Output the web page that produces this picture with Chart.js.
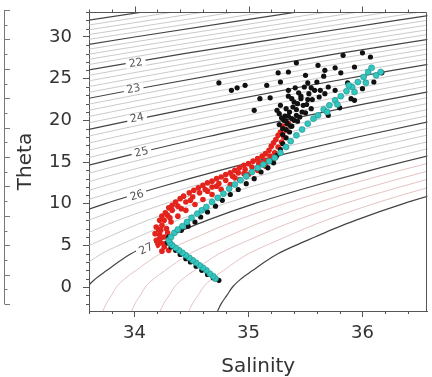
<!DOCTYPE html>
<html>
<head>
<meta charset="utf-8">
<script src="https://cdn.jsdelivr.net/npm/chart.js@4"></script>
<style>
html, body { margin: 0; padding: 0; background: #fff; }
</style>
</head>
<body>
<canvas id="tsChart" width="432" height="377"></canvas>
<script>
// axis tick labels
const salinityTicks = [34, 35, 36];
const thetaTicks = [0, 5, 10, 15, 20, 25, 30];

// isopycnal levels (sigma-theta) drawn in the background, integers are bold
const sigmaLevels = [20.0, 20.2, 20.4, 20.6, 20.8, 21.0, 21.2, 21.4, 21.6, 21.8,
  22.0, 22.2, 22.4, 22.6, 22.8, 23.0, 23.2, 23.4, 23.6, 23.8,
  24.0, 24.2, 24.4, 24.6, 24.8, 25.0, 25.2, 25.4, 25.6, 25.8,
  26.0, 26.2, 26.4, 26.6, 26.8, 27.0, 27.2, 27.4, 27.6, 27.8, 28.0];
const labelLevels = [22, 23, 24, 25, 26, 27];
const labelS = [34.01, 33.99, 34.02, 34.06, 34.02, 34.10];
const labelT = [26.9, 23.8, 20.3, 16.2, 11.0, 4.6];

// seawater reference table: sigma-theta at S=35 and haline slope, by theta
const isoT = [-3, -2, -1, 0, 1, 2, 3, 4, 5, 6, 7, 8, 10, 12, 14, 16, 18, 20, 22, 24, 26, 28, 30, 32, 34];
const isoSigma35 = [28.22, 28.19, 28.15, 28.11, 28.05, 27.97, 27.89, 27.80, 27.68, 27.55, 27.42, 27.28,
  26.96, 26.59, 26.19, 25.75, 25.28, 24.77, 24.23, 23.66, 23.06, 22.42, 21.74, 21.04, 20.33];
const isoBeta = [0.796, 0.793, 0.790, 0.785, 0.783, 0.781, 0.779, 0.776, 0.774, 0.772, 0.770, 0.768,
  0.764, 0.760, 0.757, 0.754, 0.751, 0.749, 0.747, 0.745, 0.743, 0.742, 0.740, 0.739, 0.737];

// station data [salinity, theta]
const redPoints = [
  [34.30, 4.4], [34.26, 4.8], [34.23, 5.3], [34.22, 5.8], [34.22, 6.3], [34.23, 6.8], [34.24, 7.4],
  [34.26, 8.0], [34.29, 8.6], [34.33, 9.2], [34.38, 9.7], [34.45, 10.2], [34.51, 10.8], [34.57, 11.3],
  [34.62, 11.7], [34.68, 12.0], [34.74, 12.4], [34.80, 12.8], [34.86, 13.3], [34.91, 13.7], [34.97, 14.1],
  [35.03, 14.4], [35.09, 14.8], [35.15, 15.2], [35.19, 15.7], [35.23, 16.1], [35.26, 16.8], [35.29, 17.4],
  [35.31, 18.0], [35.33, 18.8], [35.35, 19.6],
  [34.19, 5.6], [34.18, 6.4], [34.19, 7.2], [34.22, 8.0], [34.27, 8.9], [34.33, 9.8], [34.40, 10.6],
  [34.48, 11.3], [34.56, 11.9], [34.64, 12.5], [34.72, 13.0], [34.80, 13.5], [34.88, 14.0], [34.96, 14.6],
  [35.04, 15.1], [35.12, 15.7], [35.18, 16.4], [35.22, 17.3], [35.26, 18.2],
  [34.27, 5.2], [34.26, 6.0], [34.28, 7.0], [34.32, 7.8], [34.38, 8.5], [34.45, 9.2], [34.53, 9.9],
  [34.60, 10.5], [34.68, 11.1], [34.76, 11.7], [34.84, 12.3], [34.92, 12.9], [35.00, 13.5], [35.08, 14.0],
  [35.15, 14.5], [35.21, 15.1],
  [34.24, 4.3], [34.20, 5.0], [34.21, 6.9], [34.24, 8.5], [34.30, 9.5], [34.36, 10.2], [34.43, 10.9],
  [34.52, 11.6], [34.60, 12.2], [34.68, 12.7], [34.76, 13.2], [34.84, 13.7], [34.92, 14.3], [35.00, 14.8],
  [35.08, 15.4], [35.15, 16.0], [35.20, 16.9], [35.24, 17.7], [35.28, 18.6], [35.30, 19.3],
  [34.29, 6.5], [34.31, 8.3], [34.41, 9.4], [34.49, 10.4], [34.64, 11.5], [34.72, 12.1], [34.88, 13.1],
  [34.96, 13.6], [35.12, 14.9], [35.24, 15.6]
];
const blackPoints = [
  [34.74, 0.8], [34.69, 1.1], [34.64, 1.5], [34.59, 2.0], [34.54, 2.5], [34.49, 3.0], [34.45, 3.4],
  [34.40, 3.9], [34.36, 4.4], [34.32, 4.8], [34.29, 5.3], [34.30, 6.0], [34.35, 6.5], [34.41, 6.8],
  [34.47, 7.3], [34.53, 7.8], [34.58, 8.4], [34.64, 9.0], [34.71, 9.7], [34.77, 10.4], [34.84, 11.1],
  [34.91, 11.7], [34.98, 12.4], [35.05, 13.0], [35.11, 13.8], [35.17, 14.3], [35.22, 14.9], [35.25, 15.8],
  [35.28, 16.5], [35.30, 17.2], [35.33, 17.9], [35.36, 18.6], [35.38, 19.3], [35.40, 20.0], [35.42, 20.6],
  [35.70, 20.6], [35.80, 21.5], [35.90, 22.6], [36.00, 23.8], [36.10, 24.6],
  [35.30, 19.0], [35.34, 19.6], [35.38, 20.2], [35.32, 20.5], [35.36, 21.0], [35.42, 21.3], [35.45, 20.4],
  [35.48, 21.8], [35.40, 22.2], [35.52, 22.5], [35.55, 21.4], [35.35, 22.9], [35.44, 23.3], [35.58, 23.6],
  [35.62, 22.8], [35.67, 23.2], [35.70, 24.0], [35.76, 23.6], [35.49, 24.0], [35.28, 21.8], [35.35, 23.6],
  [35.60, 24.6], [35.66, 25.3], [35.31, 20.0], [35.37, 19.3], [35.46, 22.6], [35.50, 20.9], [35.27, 20.8],
  [35.41, 23.9], [35.53, 23.2],
  [35.30, 18.3], [35.33, 18.9], [35.27, 19.5], [35.35, 20.5], [35.39, 21.6], [35.43, 22.0], [35.47, 21.0],
  [35.33, 21.4], [35.38, 22.6], [35.51, 21.9], [35.56, 22.5], [35.43, 19.9], [35.46, 22.9], [35.55, 23.9],
  [35.63, 23.6], [35.33, 19.9], [35.29, 20.3], [35.25, 21.2],
  [34.74, 24.5], [34.85, 23.6], [34.97, 24.2], [35.16, 24.2], [35.19, 22.7], [35.26, 25.7], [35.28, 24.6],
  [35.35, 25.8], [35.42, 26.9], [35.50, 25.4], [35.52, 24.5], [35.61, 26.6], [35.67, 26.0], [35.76, 26.3],
  [35.81, 25.7], [35.83, 27.8], [35.93, 26.4], [36.00, 28.1], [36.07, 27.6], [36.17, 25.7], [35.87, 24.5],
  [35.93, 22.4], [35.10, 22.6], [35.05, 21.2], [34.90, 23.9]
];
const cyanPoints = [
  [34.71, 1.0], [34.69, 1.3], [34.66, 1.6], [34.63, 2.0], [34.60, 2.3], [34.57, 2.6], [34.54, 2.9],
  [34.51, 3.2], [34.48, 3.5], [34.45, 3.8], [34.42, 4.1], [34.39, 4.4], [34.36, 4.7], [34.33, 5.0],
  [34.31, 5.3], [34.30, 5.6], [34.32, 6.0], [34.35, 6.5], [34.38, 6.9], [34.42, 7.3], [34.46, 7.8],
  [34.50, 8.3], [34.55, 8.8], [34.59, 9.2], [34.63, 9.6], [34.68, 10.2], [34.73, 10.7], [34.78, 11.2],
  [34.83, 11.8], [34.88, 12.3], [34.93, 12.8], [34.98, 13.3], [35.03, 13.8], [35.08, 14.3], [35.13, 14.7],
  [35.18, 15.1], [35.23, 15.5], [35.28, 16.1], [35.33, 16.8], [35.37, 17.5], [35.42, 18.2], [35.47, 18.9],
  [35.52, 19.6], [35.57, 20.2], [35.61, 20.6], [35.66, 21.3], [35.71, 21.8], [35.76, 22.4], [35.81, 22.9],
  [35.86, 23.5], [35.91, 24.0], [35.96, 24.6], [36.01, 25.2], [36.05, 25.8], [36.08, 26.3], [36.12, 25.4],
  [36.16, 25.8], [36.03, 24.5], [35.93, 23.4], [35.88, 24.2], [35.78, 21.9], [35.69, 21.0]
];

const FONT = 'DejaVu Sans';

// isopycnal line for one level, traced through the reference table
function isopycnal(level) {
  return isoT.map((t, i) => ({ x: 35 + (level - isoSigma35[i]) / isoBeta[i], y: t }));
}

const contourSets = sigmaLevels.map(level => {
  const bold = Math.abs(level - Math.round(level)) < 1e-6;
  return {
    type: 'line',
    level: bold ? Math.round(level) : null,
    data: isopycnal(level),
    borderColor: bold ? '#444' : (level > 27 ? '#dcb4b4' : '#bdbdbd'),
    borderWidth: bold ? 1.2 : 0.8,
    pointRadius: 0,
    cubicInterpolationMode: 'monotone',
    order: 10
  };
});

const toXY = pts => pts.map(p => ({ x: p[0], y: p[1] }));

// drop the extra room Chart.js keeps for half tick labels
const noPad = s => { s.paddingTop = 0; s.paddingBottom = 0; s.paddingLeft = 0; s.paddingRight = 0; };

const frame = {
  id: 'frame',
  afterDatasetsDraw(chart) {
    const { ctx, scales: { x, y } } = chart;
    // contour labels
    labelLevels.forEach((lvl, i) => {
      const ds = chart.data.datasets.find(d => d.level === lvl);
      const pts = ds.data;
      const k = Math.max(1, pts.findIndex(p => p.y >= labelT[i]));
      const p0 = pts[k - 1], p1 = pts[k];
      const ang = Math.atan2(y.getPixelForValue(p1.y) - y.getPixelForValue(p0.y),
                             x.getPixelForValue(p1.x) - x.getPixelForValue(p0.x));
      ctx.save();
      ctx.translate(x.getPixelForValue(labelS[i]), y.getPixelForValue(labelT[i]));
      ctx.rotate(ang);
      ctx.fillStyle = '#fff';
      ctx.fillRect(-10, -4.5, 20, 9);
      ctx.fillStyle = '#555';
      ctx.font = '11px "' + FONT + '"';
      ctx.textAlign = 'center';
      ctx.textBaseline = 'middle';
      ctx.fillText(String(lvl), 0, 0.5);
      ctx.restore();
    });
  },
  afterDraw(chart) {
    const { ctx, chartArea: a, scales: { x, y } } = chart;
    ctx.save();
    ctx.strokeStyle = '#555';
    ctx.lineWidth = 1;
    ctx.beginPath();
    // top and right borders
    const top = Math.round(a.top) + 0.5, right = Math.round(a.right) - 0.5;
    ctx.moveTo(a.left, top); ctx.lineTo(right, top); ctx.lineTo(right, a.bottom);
    // salinity ticks: minor on bottom, all on top
    for (let i = 168; i <= 183; i++) {
      const v = i / 5;
      if (v < x.min || v > x.max) continue;
      const px = Math.round(x.getPixelForValue(v)) + 0.5;
      const major = i % 5 === 0;
      ctx.moveTo(px, top); ctx.lineTo(px, top - (major ? 6 : 3));
      if (!major) { ctx.moveTo(px, a.bottom); ctx.lineTo(px, a.bottom + 3); }
    }
    // theta minor ticks
    for (let t = -2; t <= 33; t++) {
      if (t % 5 === 0) continue;
      const py = Math.round(y.getPixelForValue(t)) + 0.5;
      ctx.moveTo(a.left, py); ctx.lineTo(a.left - 3, py);
    }
    ctx.stroke();
    // edge of the neighbouring panel
    ctx.strokeStyle = '#777';
    ctx.beginPath();
    ctx.moveTo(4.5, 10); ctx.lineTo(4.5, 304);
    for (let k = 0; k <= 20; k++) {
      const py = Math.round(10 + k * 14.7) + 0.5;
      ctx.moveTo(4.5, py); ctx.lineTo(k % 2 === 0 ? 10 : 7.5, py);
    }
    ctx.stroke();
    ctx.restore();
  }
};

new Chart(document.getElementById('tsChart').getContext('2d'), {
  type: 'scatter',
  data: {
    datasets: [
      {
        label: 'cyan', data: toXY(cyanPoints), order: 0,
        backgroundColor: '#33c6bf', borderColor: '#1f8f8a', borderWidth: 0.6, pointRadius: 3
      },
      {
        label: 'black', data: toXY(blackPoints), order: 1,
        backgroundColor: '#111', borderColor: '#111', borderWidth: 0, pointRadius: 2.6
      },
      {
        label: 'red', data: toXY(redPoints), order: 2,
        backgroundColor: '#e3231c', borderColor: '#e3231c', borderWidth: 0, pointRadius: 2.8
      },
      ...contourSets
    ]
  },
  options: {
    responsive: false,
    animation: false,
    devicePixelRatio: 1,
    layout: { padding: { top: 12, right: 1, left: 0, bottom: 0 } },
    plugins: { legend: { display: false }, tooltip: { enabled: false } },
    scales: {
      x: {
        type: 'linear', position: 'bottom', min: 33.6, max: 36.57,
        afterBuildTicks: s => { s.ticks = salinityTicks.map(v => ({ value: v })); },
        afterFit: s => { s.height = 66; noPad(s); },
        grid: { drawOnChartArea: false, tickLength: 6, tickColor: '#555' },
        border: { display: true, color: '#555', width: 1 },
        ticks: { font: { family: FONT, size: 18 }, color: '#333', padding: 6, maxRotation: 0, autoSkip: false },
        title: { display: true, text: 'Salinity', color: '#333',
                 font: { family: FONT, size: 20, lineHeight: 1 }, padding: { top: 0, bottom: 0 } }
      },
      y: {
        type: 'linear', position: 'left', min: -2.88, max: 33.0,
        afterBuildTicks: s => { s.ticks = thetaTicks.map(v => ({ value: v })); },
        afterFit: s => { s.width = 89; noPad(s); },
        grid: { drawOnChartArea: false, tickLength: 6, tickColor: '#555' },
        border: { display: true, color: '#555', width: 1 },
        ticks: { font: { family: FONT, size: 18 }, color: '#333', padding: 11, autoSkip: false },
        title: { display: true, text: 'Theta', color: '#333',
                 font: { family: FONT, size: 20, lineHeight: 1 }, padding: { top: 16, bottom: 0 } }
      }
    }
  },
  plugins: [frame]
});
</script>
</body>
</html>
